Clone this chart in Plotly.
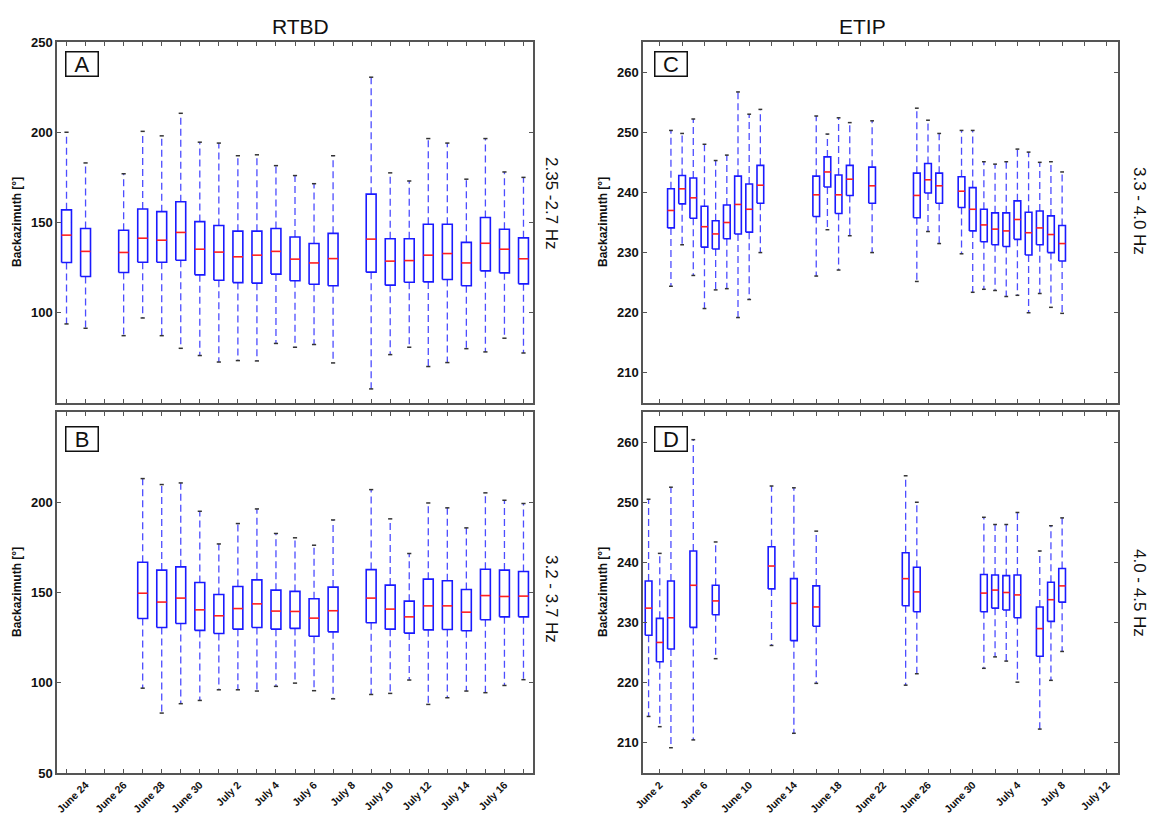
import plotly.graph_objects as go
import pandas as pd

# ---------------- data ----------------
# Panel A : RTBD 2.35-2.7 Hz
A_DATES = ["2011-06-23", "2011-06-24", "2011-06-26", "2011-06-27", "2011-06-28", "2011-06-29",
           "2011-06-30", "2011-07-01", "2011-07-02", "2011-07-03", "2011-07-04", "2011-07-05",
           "2011-07-06", "2011-07-07", "2011-07-09", "2011-07-10", "2011-07-11", "2011-07-12",
           "2011-07-13", "2011-07-14", "2011-07-15", "2011-07-16", "2011-07-17"]
A_UPPER = [200, 183, 177, 200.5, 198, 210.5, 194.5, 194, 187, 187.5, 181.5, 176, 171.5, 187,
           230.5, 177.5, 173, 196.5, 194, 174, 196.5, 178, 175]
A_Q3 = [157, 146.7, 145.7, 157.5, 156, 161.5, 150.5, 148.3, 145.2, 145.2, 146.7, 142, 138.4, 144,
        165.7, 141, 141, 149, 149, 139, 152.8, 146.3, 141.5]
A_MED = [143, 134, 133.4, 141.3, 140.2, 144.5, 135.2, 133.6, 131, 131.9, 134, 129.7, 127.6, 130,
         140.8, 128.6, 128.9, 131.9, 132.8, 127.6, 138.5, 135.2, 129.9]
A_Q1 = [127.8, 120.1, 122.3, 128, 128, 129.1, 121, 118, 116.7, 116.4, 121.4, 117.7, 115.8, 115,
        122.5, 115.3, 116.9, 117.1, 118.4, 115, 123.2, 122.1, 116]
A_LOWER = [93.8, 91.4, 87.3, 97.1, 87.3, 80.3, 76.3, 72.7, 73.5, 73.3, 83, 80.9, 82.4, 72.2,
           57.8, 76.8, 80.9, 70.2, 72.4, 80.1, 78.3, 85.9, 77.7]

# Panel B : RTBD 3.2-3.7 Hz
B_DATES = ["2011-06-27", "2011-06-28", "2011-06-29", "2011-06-30", "2011-07-01", "2011-07-02",
           "2011-07-03", "2011-07-04", "2011-07-05", "2011-07-06", "2011-07-07", "2011-07-09",
           "2011-07-10", "2011-07-11", "2011-07-12", "2011-07-13", "2011-07-14", "2011-07-15",
           "2011-07-16", "2011-07-17"]
B_UPPER = [213.1, 209.8, 210.7, 195, 176.9, 188.2, 196.3, 182.7, 180.3, 176.2, 190.2, 207, 190.8,
           171.6, 199.6, 196.9, 185.8, 205.2, 201.1, 199.3]
B_Q3 = [166.8, 162.4, 164.2, 155.5, 148.9, 153.3, 157, 151.3, 150.6, 146.5, 153, 162.7, 154.1,
        145.2, 157.4, 156.5, 151.7, 162.9, 162.4, 161.6]
B_MED = [149.6, 144.7, 146.9, 140.4, 137.1, 141.1, 143.7, 139.7, 139.5, 135.8, 139.9, 146.9, 140.8,
         136.5, 142.6, 142.6, 139.1, 148.3, 147.8, 148]
B_Q1 = [135.6, 130.6, 132.8, 129, 127.3, 129.7, 130.6, 129.7, 130.1, 125.8, 128.2, 133.2, 129.7,
        127.5, 129.3, 129.5, 128.8, 134.9, 136.5, 136.5]
B_LOWER = [97, 83.2, 88.4, 90.2, 96.1, 96.1, 95.4, 98, 99.8, 95.6, 91.1, 93.5, 94.1, 101.5, 88,
           91.7, 95.4, 94.5, 98.5, 101.7]

# Panel C : ETIP 3.3-4.0 Hz
C_DATES = ["2011-06-03", "2011-06-04", "2011-06-05", "2011-06-06", "2011-06-07", "2011-06-08",
           "2011-06-09", "2011-06-10", "2011-06-11", "2011-06-16", "2011-06-17", "2011-06-18",
           "2011-06-19", "2011-06-21", "2011-06-25", "2011-06-26", "2011-06-27", "2011-06-29",
           "2011-06-30", "2011-07-01", "2011-07-02", "2011-07-03", "2011-07-04", "2011-07-05",
           "2011-07-06", "2011-07-07", "2011-07-08"]
C_UPPER = [250.3, 249.8, 252.2, 248, 245.3, 246.2, 256.7, 253, 253.8, 252.7, 249.7, 252.4, 251.6,
           251.9, 254, 252, 249.8, 250.3, 250.3, 245.1, 244.7, 245.1, 247.2, 246.7, 245, 245.1, 243.4]
C_Q3 = [240.6, 242.8, 242.4, 237.7, 235.3, 237.9, 242.7, 241.4, 244.5, 242.7, 245.9, 242.9, 244.5,
        244.2, 243.2, 244.8, 243.2, 242.6, 240.8, 237.2, 236.6, 236.6, 238.6, 236.7, 236.9, 236.1, 234.5]
C_MED = [237, 240.6, 239.1, 234.3, 233.1, 235, 238, 237.2, 241.2, 239.6, 243.4, 239.6, 242.2,
         241.1, 239.5, 242.1, 241.1, 240.2, 237.2, 234.6, 233.9, 233.6, 235.5, 233.3, 234.1, 233, 231.5]
C_Q1 = [234.1, 238.1, 235.7, 230.9, 230.6, 232.3, 233.1, 233.4, 238.2, 236, 240.9, 236.5, 239.5,
        238.2, 235.8, 239.9, 238.2, 237.5, 233.6, 231.8, 231.3, 231, 232.2, 229.6, 231.3, 230, 228.6]
C_LOWER = [224.4, 231.3, 226.2, 220.7, 223.8, 224, 219.2, 222.2, 230, 226.1, 233.8, 227.1, 232.8,
           230, 225.2, 233.5, 231.5, 229.8, 223.4, 223.9, 223.7, 222.7, 222.9, 220, 223.2, 220.9, 219.9]

# Panel D : ETIP 4.0-4.5 Hz
D_DATES = ["2011-06-01", "2011-06-02", "2011-06-03", "2011-06-05", "2011-06-07", "2011-06-12",
           "2011-06-14", "2011-06-16", "2011-06-24", "2011-06-25", "2011-07-01", "2011-07-02",
           "2011-07-03", "2011-07-04", "2011-07-06", "2011-07-07", "2011-07-08"]
D_UPPER = [250.5, 241.5, 252.5, 260.4, 243.4, 252.7, 252.4, 245.2, 254.4, 250, 247.5, 246.3, 246.3,
           248.3, 241.9, 246.1, 247.4]
D_Q3 = [236.9, 230.7, 236.9, 241.9, 236.2, 242.6, 237.3, 236.1, 241.6, 239.2, 238, 237.9, 237.8,
        237.9, 232.6, 236.7, 239]
D_MED = [232.4, 226.7, 230.8, 236.2, 233.6, 239.4, 233.2, 232.6, 237.3, 235.1, 234.9, 235.4, 235,
         234.6, 229, 233.8, 236.1]
D_Q1 = [227.9, 223.5, 225.6, 229.2, 231.3, 235.6, 227, 229.4, 232.8, 231.8, 231.8, 232.4, 232.1,
        230.8, 224.4, 230.2, 233.4]
D_LOWER = [214.4, 212.7, 209.2, 210.5, 224, 226.2, 211.6, 219.9, 219.6, 221.5, 222.4, 224.3, 223.6,
           220.1, 212.3, 220.4, 225.2]

# Tick labels
LEFT_TICK_LABELS = ["June 24", "June 26", "June 28", "June 30", "July 2", "July 4", "July 6",
                    "July 8", "July 10", "July 12", "July 14", "July 16"]
RIGHT_TICK_LABELS = ["June 2", "June 6", "June 10", "June 14", "June 18", "June 22", "June 26",
                     "June 30", "July 4", "July 8", "July 12"]

COLUMN_TITLES = ["RTBD", "ETIP"]
BAND_LABELS = ["2.35 -2.7 Hz", "3.2 - 3.7 Hz", "3.3 - 4.0 Hz", "4.0 - 4.5 Hz"]
PANEL_LETTERS = ["A", "B", "C", "D"]
Y_TITLE = "Backazimuth [°]"

# ---------------- styling ----------------
W, H = 1151, 815
FONT = "Liberation Sans, Arial, sans-serif"
FRAME = "#555555"
BLUE = "#1a1aff"
WHISK = "#4d4dff"
RED = "#ff2020"
CAP = "#333333"


def px_x(v):
    return v / W


def px_y(v):
    return 1 - v / H


fig = go.Figure()


def add_boxes(dates, lower, q1, med, q3, upper, xa, ya, half_box, half_cap):
    ts = [pd.Timestamp(d) for d in dates]
    hb = pd.Timedelta(days=half_box)
    hc = pd.Timedelta(days=half_cap)
    wx, wy, bx, by, mx, my, cx, cy = [], [], [], [], [], [], [], []
    for t, lo, a, m, b, up in zip(ts, lower, q1, med, q3, upper):
        wx += [t, t, None, t, t, None]
        wy += [b, up, None, a, lo, None]
        bx += [t - hb, t + hb, t + hb, t - hb, t - hb, None]
        by += [a, a, b, b, a, None]
        mx += [t - hb, t + hb, None]
        my += [m, m, None]
        cx += [t - hc, t + hc, None, t - hc, t + hc, None]
        cy += [up, up, None, lo, lo, None]
    common = dict(xaxis=xa, yaxis=ya, showlegend=False, hoverinfo="skip", mode="lines")
    fig.add_trace(go.Scatter(x=wx, y=wy, line=dict(color=WHISK, width=1.3, dash="7px,4px"), **common))
    fig.add_trace(go.Scatter(x=bx, y=by, fill="toself", fillcolor="white",
                             line=dict(color=BLUE, width=1.6), **common))
    fig.add_trace(go.Scatter(x=mx, y=my, line=dict(color=RED, width=1.6), **common))
    fig.add_trace(go.Scatter(x=cx, y=cy, line=dict(color=CAP, width=1.5), **common))


add_boxes(A_DATES, A_LOWER, A_Q1, A_MED, A_Q3, A_UPPER, "x", "y", 0.26, 0.11)
add_boxes(B_DATES, B_LOWER, B_Q1, B_MED, B_Q3, B_UPPER, "x2", "y2", 0.26, 0.11)
add_boxes(C_DATES, C_LOWER, C_Q1, C_MED, C_Q3, C_UPPER, "x3", "y3", 0.30, 0.17)
add_boxes(D_DATES, D_LOWER, D_Q1, D_MED, D_Q3, D_UPPER, "x4", "y4", 0.30, 0.17)

# tick positions
left_days = pd.date_range("2011-06-23", "2011-07-17", freq="D")
left_text = [f"{d.strftime('%B')} {d.day}" for d in left_days]
left_text = [t if t in LEFT_TICK_LABELS else "" for t in left_text]
right_days = pd.date_range("2011-06-02", "2011-07-12", freq="2D")
right_text = [f"{d.strftime('%B')} {d.day}" for d in right_days]
right_text = [t if t in RIGHT_TICK_LABELS else "" for t in right_text]

xl_dom = [px_x(57), px_x(533)]
xr_dom = [px_x(643), px_x(1118)]
ytop_dom = [px_y(403), px_y(42)]
ybot_dom = [px_y(773), px_y(412)]

axis_common = dict(showline=True, linecolor=FRAME, linewidth=1.5, mirror="ticks",
                   ticks="inside", ticklen=4, tickcolor=FRAME, tickwidth=1,
                   showgrid=False, zeroline=False, automargin=False)
xfont = dict(family=FONT, size=10.5, color="#111111", weight="bold")
yfont = dict(family=FONT, size=13, color="#111111", weight="bold")

left_range = ["2011-06-22 12:00", "2011-07-17 12:00"]
right_range = ["2011-05-31 12:00", "2011-07-13 00:00"]

fig.update_layout(
    width=W, height=H, margin=dict(l=0, r=0, t=0, b=0, autoexpand=False),
    paper_bgcolor="white", plot_bgcolor="white",
    xaxis=dict(domain=xl_dom, anchor="y", type="date", range=left_range,
               tickvals=list(left_days), ticktext=left_text, showticklabels=False, **axis_common),
    yaxis=dict(domain=ytop_dom, anchor="x", range=[50, 250], tickvals=[100, 150, 200, 250],
               tickfont=yfont, **axis_common),
    xaxis2=dict(domain=xl_dom, anchor="y2", type="date", range=left_range,
                tickvals=list(left_days), ticktext=left_text, tickangle=-45, tickfont=xfont,
                **axis_common),
    yaxis2=dict(domain=ybot_dom, anchor="x2", range=[50, 250], tickvals=[50, 100, 150, 200],
                tickfont=yfont, **axis_common),
    xaxis3=dict(domain=xr_dom, anchor="y3", type="date", range=right_range,
                tickvals=list(right_days), ticktext=right_text, showticklabels=False, **axis_common),
    yaxis3=dict(domain=ytop_dom, anchor="x3", range=[205, 265], tickvals=[210, 220, 230, 240, 250, 260],
                tickfont=yfont, **axis_common),
    xaxis4=dict(domain=xr_dom, anchor="y4", type="date", range=right_range,
                tickvals=list(right_days), ticktext=right_text, tickangle=-45, tickfont=xfont,
                **axis_common),
    yaxis4=dict(domain=ybot_dom, anchor="x4", range=[205, 265], tickvals=[210, 220, 230, 240, 250, 260],
                tickfont=yfont, **axis_common),
)

ann = []
centered = dict(xref="paper", yref="paper", xanchor="center", yanchor="middle", showarrow=False)
# column titles
ann.append(dict(text=COLUMN_TITLES[0], x=px_x(300), y=px_y(26),
                font=dict(family=FONT, size=21, color="#111111"), **centered))
ann.append(dict(text=COLUMN_TITLES[1], x=px_x(862), y=px_y(26),
                font=dict(family=FONT, size=21, color="#111111"), **centered))
# band labels (rotated)
for lab, (cx, cy) in zip(BAND_LABELS, [(552, 203), (552, 599), (1140, 211), (1140, 593)]):
    ann.append(dict(text=lab, x=px_x(cx), y=px_y(cy), textangle=90,
                    font=dict(family=FONT, size=17, color="#111111"), **centered))
# y titles
for cx, cy in [(17, 222), (17, 592), (603, 222), (603, 592)]:
    ann.append(dict(text=Y_TITLE, x=px_x(cx), y=px_y(cy), textangle=-90,
                    font=dict(family=FONT, size=12, color="#111111", weight="bold"), **centered))
# panel letters
for lab, (cx, cy) in zip(PANEL_LETTERS, [(81.5, 64.5), (81.5, 438.5), (670.5, 64.5), (670.5, 438.5)]):
    ann.append(dict(text=lab, x=px_x(cx), y=px_y(cy),
                    width=29, height=21, borderpad=1, bordercolor="#111111", borderwidth=1.5,
                    bgcolor="white", font=dict(family=FONT, size=22, color="#111111"), **centered))
fig.update_layout(annotations=ann)

fig.write_html("out.html")
